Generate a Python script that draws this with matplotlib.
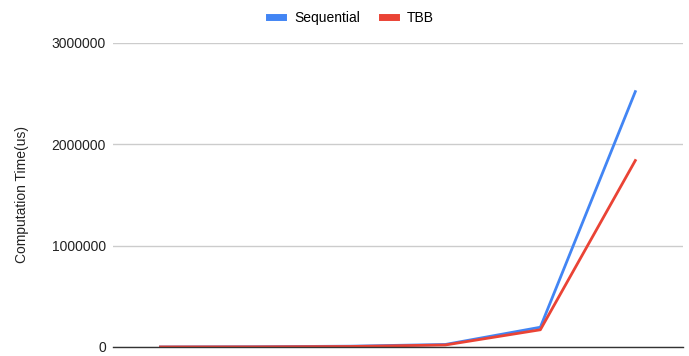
import matplotlib
matplotlib.use("Agg")
import matplotlib.pyplot as plt
from matplotlib.lines import Line2D

# data
sizes = ["1", "2", "3", "4", "5", "6"]
sequential = [300, 2500, 8000, 25000, 195000, 2520000]
tbb = [500, 1500, 5000, 20000, 170000, 1840000]
yticks = [0, 1000000, 2000000, 3000000]

plt.rcParams["font.family"] = ["Liberation Sans", "DejaVu Sans"]

fig = plt.figure(figsize=(6.89, 3.56), dpi=100)
ax = fig.add_axes([0.164, 0.0253, 0.827, 0.854])

x = list(range(len(sizes)))
ax.plot(x, sequential, color="#4285F4", lw=2)
ax.plot(x, tbb, color="#EA4335", lw=2)

ax.set_xlim(-0.5, len(sizes) - 0.5)
ax.set_ylim(0, 3000000)
ax.set_yticks(yticks)
ax.set_yticklabels([str(v) for v in yticks], fontsize=10, color="#222222")
ax.set_xticks([])
ax.tick_params(axis="y", length=0, pad=5)
ax.grid(axis="y", color="#cccccc", lw=1)
ax.set_axisbelow(True)
for s in ["top", "right", "left"]:
    ax.spines[s].set_visible(False)
ax.spines["bottom"].set_color("#333333")
ax.spines["bottom"].set_linewidth(1)
ax.set_ylabel("Computation Time(us)", fontsize=10, color="#222222")
ax.yaxis.set_label_coords(-0.148, 0.5)

handles = [Line2D([], [], color="#4285F4", lw=5),
           Line2D([], [], color="#EA4335", lw=5)]
fig.legend(handles, ["Sequential", "TBB"], loc="center", bbox_to_anchor=(0.51, 0.95),
           ncol=2, frameon=False, fontsize=10, handlelength=1.0, handletextpad=0.8,
           columnspacing=1.6)

fig.savefig("out.png", dpi=100, facecolor="white")
